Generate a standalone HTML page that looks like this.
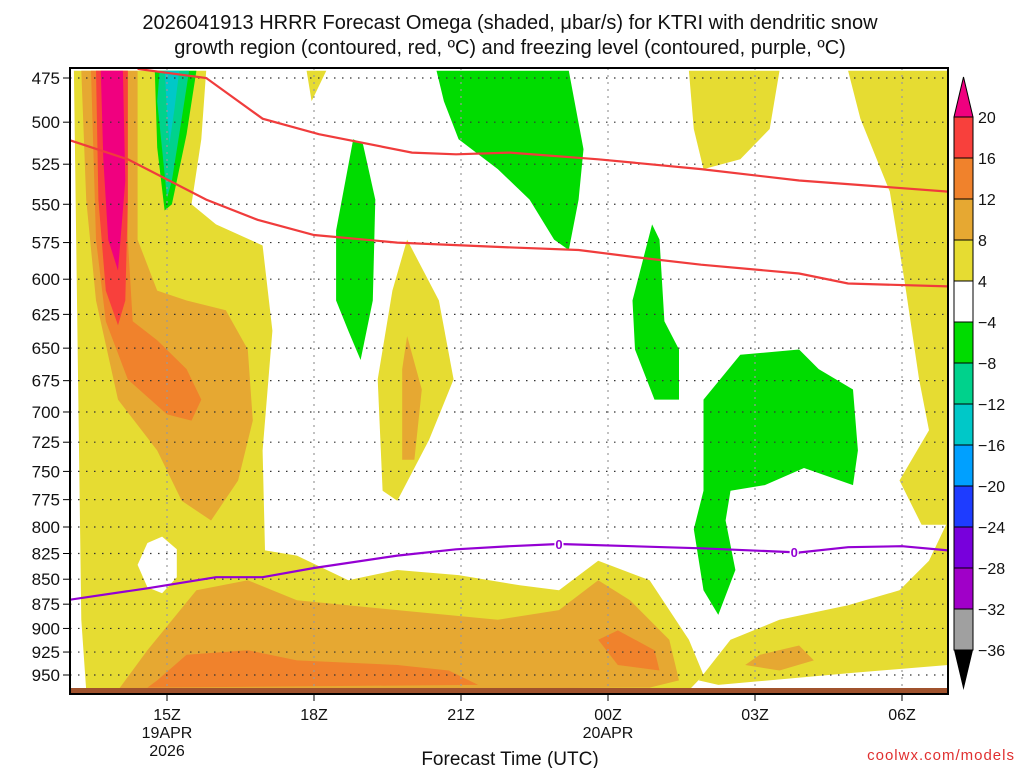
<!DOCTYPE html>
<html><head><meta charset="utf-8">
<style>
html,body{margin:0;padding:0;background:#fff;}
svg{display:block;font-family:"Liberation Sans",sans-serif;}
</style></head>
<body>
<svg id="chart" width="1024" height="768" viewBox="0 0 1024 768" xmlns="http://www.w3.org/2000/svg">
<rect x="0" y="0" width="1024" height="768" fill="#fff"/>
<text x="510" y="29" font-size="20" text-anchor="middle" fill="#111">2026041913 HRRR Forecast Omega (shaded, μbar/s) for KTRI with dendritic snow</text>
<text x="510" y="54" font-size="20" text-anchor="middle" fill="#111">growth region (contoured, red, ºC) and freezing level (contoured, purple, ºC)</text>
<defs><clipPath id="plotclip"><rect x="70" y="68" width="878" height="626"/></clipPath></defs>
<g id="fills" clip-path="url(#plotclip)"></g>
<g id="grid"></g>
<g id="lines" clip-path="url(#plotclip)"></g>
<rect x="70" y="688" width="878" height="6" fill="#a0522d"/>
<rect x="70" y="68" width="878" height="626" fill="none" stroke="#000" stroke-width="2"/>
<g id="axes"></g>
<g id="cbar"></g>
<text x="510" y="765" font-size="19" text-anchor="middle" fill="#111">Forecast Time (UTC)</text>
<text x="1015" y="760" font-size="15" text-anchor="end" fill="#e03030" letter-spacing="1">coolwx.com/models</text>
</svg>
<script>
// hours after 15Z, pressure hPa
const timeTicks=[0,3,6,9,12,15];
const timeLabels=["15Z","18Z","21Z","00Z","03Z","06Z"];
const pressureTicks=[475,500,525,550,575,600,625,650,675,700,725,750,775,800,825,850,875,900,925,950];
const cbarLevels=[20,16,12,8,4,-4,-8,-12,-16,-20,-24,-28,-32,-36];
const cbarColors=["#f8403c","#f0822c","#e6a832","#e6dc32","#ffffff","#00dc00","#00d28c","#00c8c8","#00a0ff","#1e3cff","#7800dc","#a000c8","#a0a0a0"];
const yellowLeft=[[-1.9,471],[0.8,471],[0.7,510],[0.5,550],[1.0,563],[1.95,577],[2.15,637],[1.95,732],[2.0,822],[2.65,827],[3.7,851],[4.7,841],[5.95,846],[7.2,856],[8.0,861],[8.8,832],[9.85,851],[10.65,912],[10.95,950],[10.65,967],[-1.65,967],[-1.75,891]];
const holeLeft=[[-0.6,836],[-0.4,815],[-0.1,809],[0.2,821],[0.2,848],[-0.1,864],[-0.4,858]];
const yellowBottomRight=[[10.85,956],[11.5,912],[12.5,891],[13.9,876],[14.95,861],[15.55,832],[15.94,794],[15.94,939],[13.9,948],[11.25,961]];
const yellowRight=[[13.9,471],[15.94,471],[15.94,798],[15.4,798],[14.95,758],[15.55,715],[15.35,674],[15.05,601],[14.75,542],[14.15,498]];
const yellowTopV=[[10.65,471],[12.5,471],[12.3,504],[11.7,522],[10.95,528],[10.75,504]];
const yellowTopSmall=[[2.85,471],[3.25,471],[2.95,488]];
const yellowSpire=[[4.4,767],[4.3,674],[4.6,608],[4.9,573],[5.55,615],[5.85,674],[5.35,723],[4.7,776]];
const lorangeLeft=[[-1.75,471],[-0.6,471],[-0.6,573],[-0.2,608],[0.4,615],[1.2,622],[1.65,651],[1.75,707],[1.45,758],[0.9,794],[0.3,776],[-0.2,732],[-1.0,690],[-1.45,615],[-1.65,547]];
const lorangeBottom=[[-1.0,967],[-0.4,923],[0.6,861],[1.65,851],[2.65,871],[4.7,881],[6.75,891],[8.0,881],[8.8,851],[9.45,871],[10.25,912],[10.45,956],[9.85,964]];
const lorangeSpire=[[4.8,740],[4.8,666],[4.9,641],[5.2,682],[5.05,740]];
const lorangeBR=[[11.8,939],[12.1,928],[12.9,918],[13.2,934],[12.5,945]];
const orangeLeft=[[-1.55,471],[-0.8,471],[-0.8,573],[-0.7,630],[-0.2,644],[0.4,666],[0.7,690],[0.5,707],[0.0,702],[-0.8,674],[-1.25,630],[-1.45,573]];
const orangeBottom=[[-0.2,956],[0.4,928],[1.65,923],[2.65,934],[4.7,939],[5.75,945],[6.35,961],[-0.4,964]];
const orangeSmall=[[8.8,912],[9.2,902],[9.95,923],[10.05,945],[9.2,939]];
const redLeft=[[-1.45,471],[-0.8,471],[-0.8,547],[-0.85,615],[-1.0,633],[-1.25,608],[-1.4,547]];
const magentaLeft=[[-1.35,471],[-0.9,471],[-0.85,535],[-1.0,594],[-1.2,573],[-1.3,522]];
const greenTopMid=[[5.5,471],[8.2,471],[8.5,516],[8.4,547],[8.2,580],[7.9,573],[7.4,547],[6.75,528],[5.95,510],[5.65,488]];
const greenLeft=[[3.45,567],[3.8,510],[4.0,513],[4.25,547],[4.2,615],[3.95,659],[3.7,637],[3.45,615]];
const greenMid=[[9.5,615],[9.9,563],[10.05,573],[10.15,630],[10.45,651],[10.45,690],[9.95,690],[9.55,651]];
const greenBig=[[10.95,690],[11.7,655],[12.9,651],[13.3,666],[14.0,682],[14.1,732],[14.0,762],[13.0,747],[12.2,762],[11.5,767],[11.4,794],[11.6,841],[11.25,886],[10.95,861],[10.75,802],[10.95,767]];
const greenTop=[[-0.25,471],[0.6,471],[0.4,507],[0.1,550],[-0.05,554],[-0.2,515]];
const tealTop=[[-0.15,471],[0.45,471],[0.3,498],[0.1,535],[0.0,546],[-0.1,516],[-0.2,488]];
const cyanTop=[[-0.05,471],[0.25,471],[0.15,493],[0.05,513],[0.0,493]];
const redUpper=[[-0.6,470],[0.8,475],[1.95,498],[3.1,507],[5.0,518],[5.9,519],[7.0,518],[8.8,522],[10.9,528],[12.9,535],[15.94,542]];
const redLower=[[-2.05,510],[-0.8,522],[0.8,547],[1.85,560],[3.0,570],[4.7,575],[6.8,578],[8.4,580],[9.6,585],[10.9,590],[12.9,596],[13.9,603],[15.94,605]];
const freezing=[[-2.05,871],[-0.4,859],[1.0,848],[1.95,848],[3.0,839],[4.7,827],[5.9,821],[7.0,818],[8.0,816],[10.9,820],[12.9,824],[13.9,819],[15.0,818],[15.94,822]];
const freezingLabelTimes=[8.0,12.8];

const NS="http://www.w3.org/2000/svg";
function xs(t){return 167+t*49;}
function ys(p){return 78+Math.log(p/475)*861.3;}
function mk(tag,attrs,parent){const e=document.createElementNS(NS,tag);for(const k in attrs)e.setAttribute(k,attrs[k]);parent.appendChild(e);return e;}
function pts(a){return a.map(d=>xs(d[0]).toFixed(1)+","+ys(d[1]).toFixed(1)).join(" ");}
const fills=document.getElementById('fills');
const layers=[
 [yellowLeft,"#e6dc32","yellow-region-left"],[holeLeft,"#ffffff","white-hole"],
 [yellowBottomRight,"#e6dc32","yellow-region-bottom-right"],[yellowRight,"#e6dc32","yellow-region-right"],
 [yellowTopV,"#e6dc32","yellow-region-top"],[yellowTopSmall,"#e6dc32","yellow-region-small"],[yellowSpire,"#e6dc32","yellow-spire"],
 [lorangeLeft,"#e6a832","light-orange-left"],[lorangeBottom,"#e6a832","light-orange-bottom"],[lorangeSpire,"#e6a832","light-orange-spire"],[lorangeBR,"#e6a832","light-orange-bottom-right"],
 [orangeLeft,"#f0822c","orange-left"],[orangeBottom,"#f0822c","orange-bottom"],[orangeSmall,"#f0822c","orange-small"],
 [redLeft,"#f8403c","red-core"],[magentaLeft,"#f0007f","magenta-core"],
 [greenTopMid,"#00dc00","green-top-mid"],[greenLeft,"#00dc00","green-left"],[greenMid,"#00dc00","green-mid"],[greenBig,"#00dc00","green-big"],
 [greenTop,"#00dc00","green-top-left"],[tealTop,"#00d28c","teal-top"],[cyanTop,"#00c8c8","cyan-top"]
];
layers.forEach(l=>{
 const e=mk('polygon',{points:pts(l[0]),fill:l[1]},fills);
 
 
});
const grid=document.getElementById('grid');
pressureTicks.forEach(p=>{
 const e=mk('line',{x1:70,x2:948,y1:ys(p),y2:ys(p),stroke:"#333","stroke-width":1.2,"stroke-dasharray":"1.5,6.5"},grid);
 
 
});
timeTicks.forEach(t=>{
 const e=mk('line',{x1:xs(t),x2:xs(t),y1:68,y2:694,stroke:"#999","stroke-width":1.2,"stroke-dasharray":"2,5"},grid);
 
 
});
const lines=document.getElementById('lines');
[[redUpper,"#f03c3c","dgz-upper-line"],[redLower,"#f03c3c","dgz-lower-line"],[freezing,"#9400d3","freezing-level-line"]].forEach(l=>{
 const e=mk('polyline',{points:pts(l[0]),fill:"none",stroke:l[1],"stroke-width":2.2},lines);
 
 
});
freezingLabelTimes.forEach(t=>{
 let p=freezing[0][1];
 for(let i=0;i<freezing.length-1;i++){const a=freezing[i],b=freezing[i+1];if(t>=a[0]&&t<=b[0]){p=a[1]+(b[1]-a[1])*(t-a[0])/(b[0]-a[0]);}}
 const e=mk('text',{x:xs(t),y:ys(p)+5,"font-size":13,"text-anchor":"middle",fill:"#9400d3","font-weight":"bold",stroke:"#fff","stroke-width":3,"paint-order":"stroke"},lines);
 e.textContent="0";
 
 
});
const axes=document.getElementById('axes');
pressureTicks.forEach(p=>{
 const tk=mk('line',{x1:63,x2:70,y1:ys(p),y2:ys(p),stroke:"#000","stroke-width":1},axes);
 
 
 const e=mk('text',{x:60,y:ys(p)+6,"font-size":17,"text-anchor":"end",fill:"#111"},axes);
 e.textContent=p;
 
 
});
timeTicks.forEach((t,i)=>{
 const tk=mk('line',{x1:xs(t),x2:xs(t),y1:694,y2:701,stroke:"#000","stroke-width":1},axes);
 
 
 const e=mk('text',{x:xs(t),y:720,"font-size":16,"text-anchor":"middle",fill:"#111"},axes);
 e.textContent=timeLabels[i];
 
 
});
[["19APR",0,738],["2026",0,756],["20APR",9,738]].forEach(d=>{
 const e=mk('text',{x:xs(d[1]),y:d[2],"font-size":16,"text-anchor":"middle",fill:"#111"},axes);
 e.textContent=d[0];
 
 
});
const cbar=document.getElementById('cbar');
const cy0=117,cstep=(650-117)/(cbarLevels.length-1),cx=954,cw=19;
const cbTop=mk('polygon',{points:`${cx},${cy0} ${cx+cw},${cy0} ${cx+cw/2},${77}`,fill:"#f0007f",stroke:"#000","stroke-width":1},cbar);


cbarColors.forEach((c,i)=>{
 const e=mk('rect',{x:cx,y:cy0+i*cstep,width:cw,height:cstep,fill:c,stroke:"#000","stroke-width":1},cbar);
 
 
});
const cbBot=mk('polygon',{points:`${cx},${650} ${cx+cw},${650} ${cx+cw/2},${690}`,fill:"#000"},cbar);


cbarLevels.forEach((v,i)=>{
 const e=mk('text',{x:978,y:cy0+i*cstep+6,"font-size":16,fill:"#111"},cbar);
 e.textContent=v<0?"\u2212"+(-v):String(v);
 
 
});
</script>
</body></html>
